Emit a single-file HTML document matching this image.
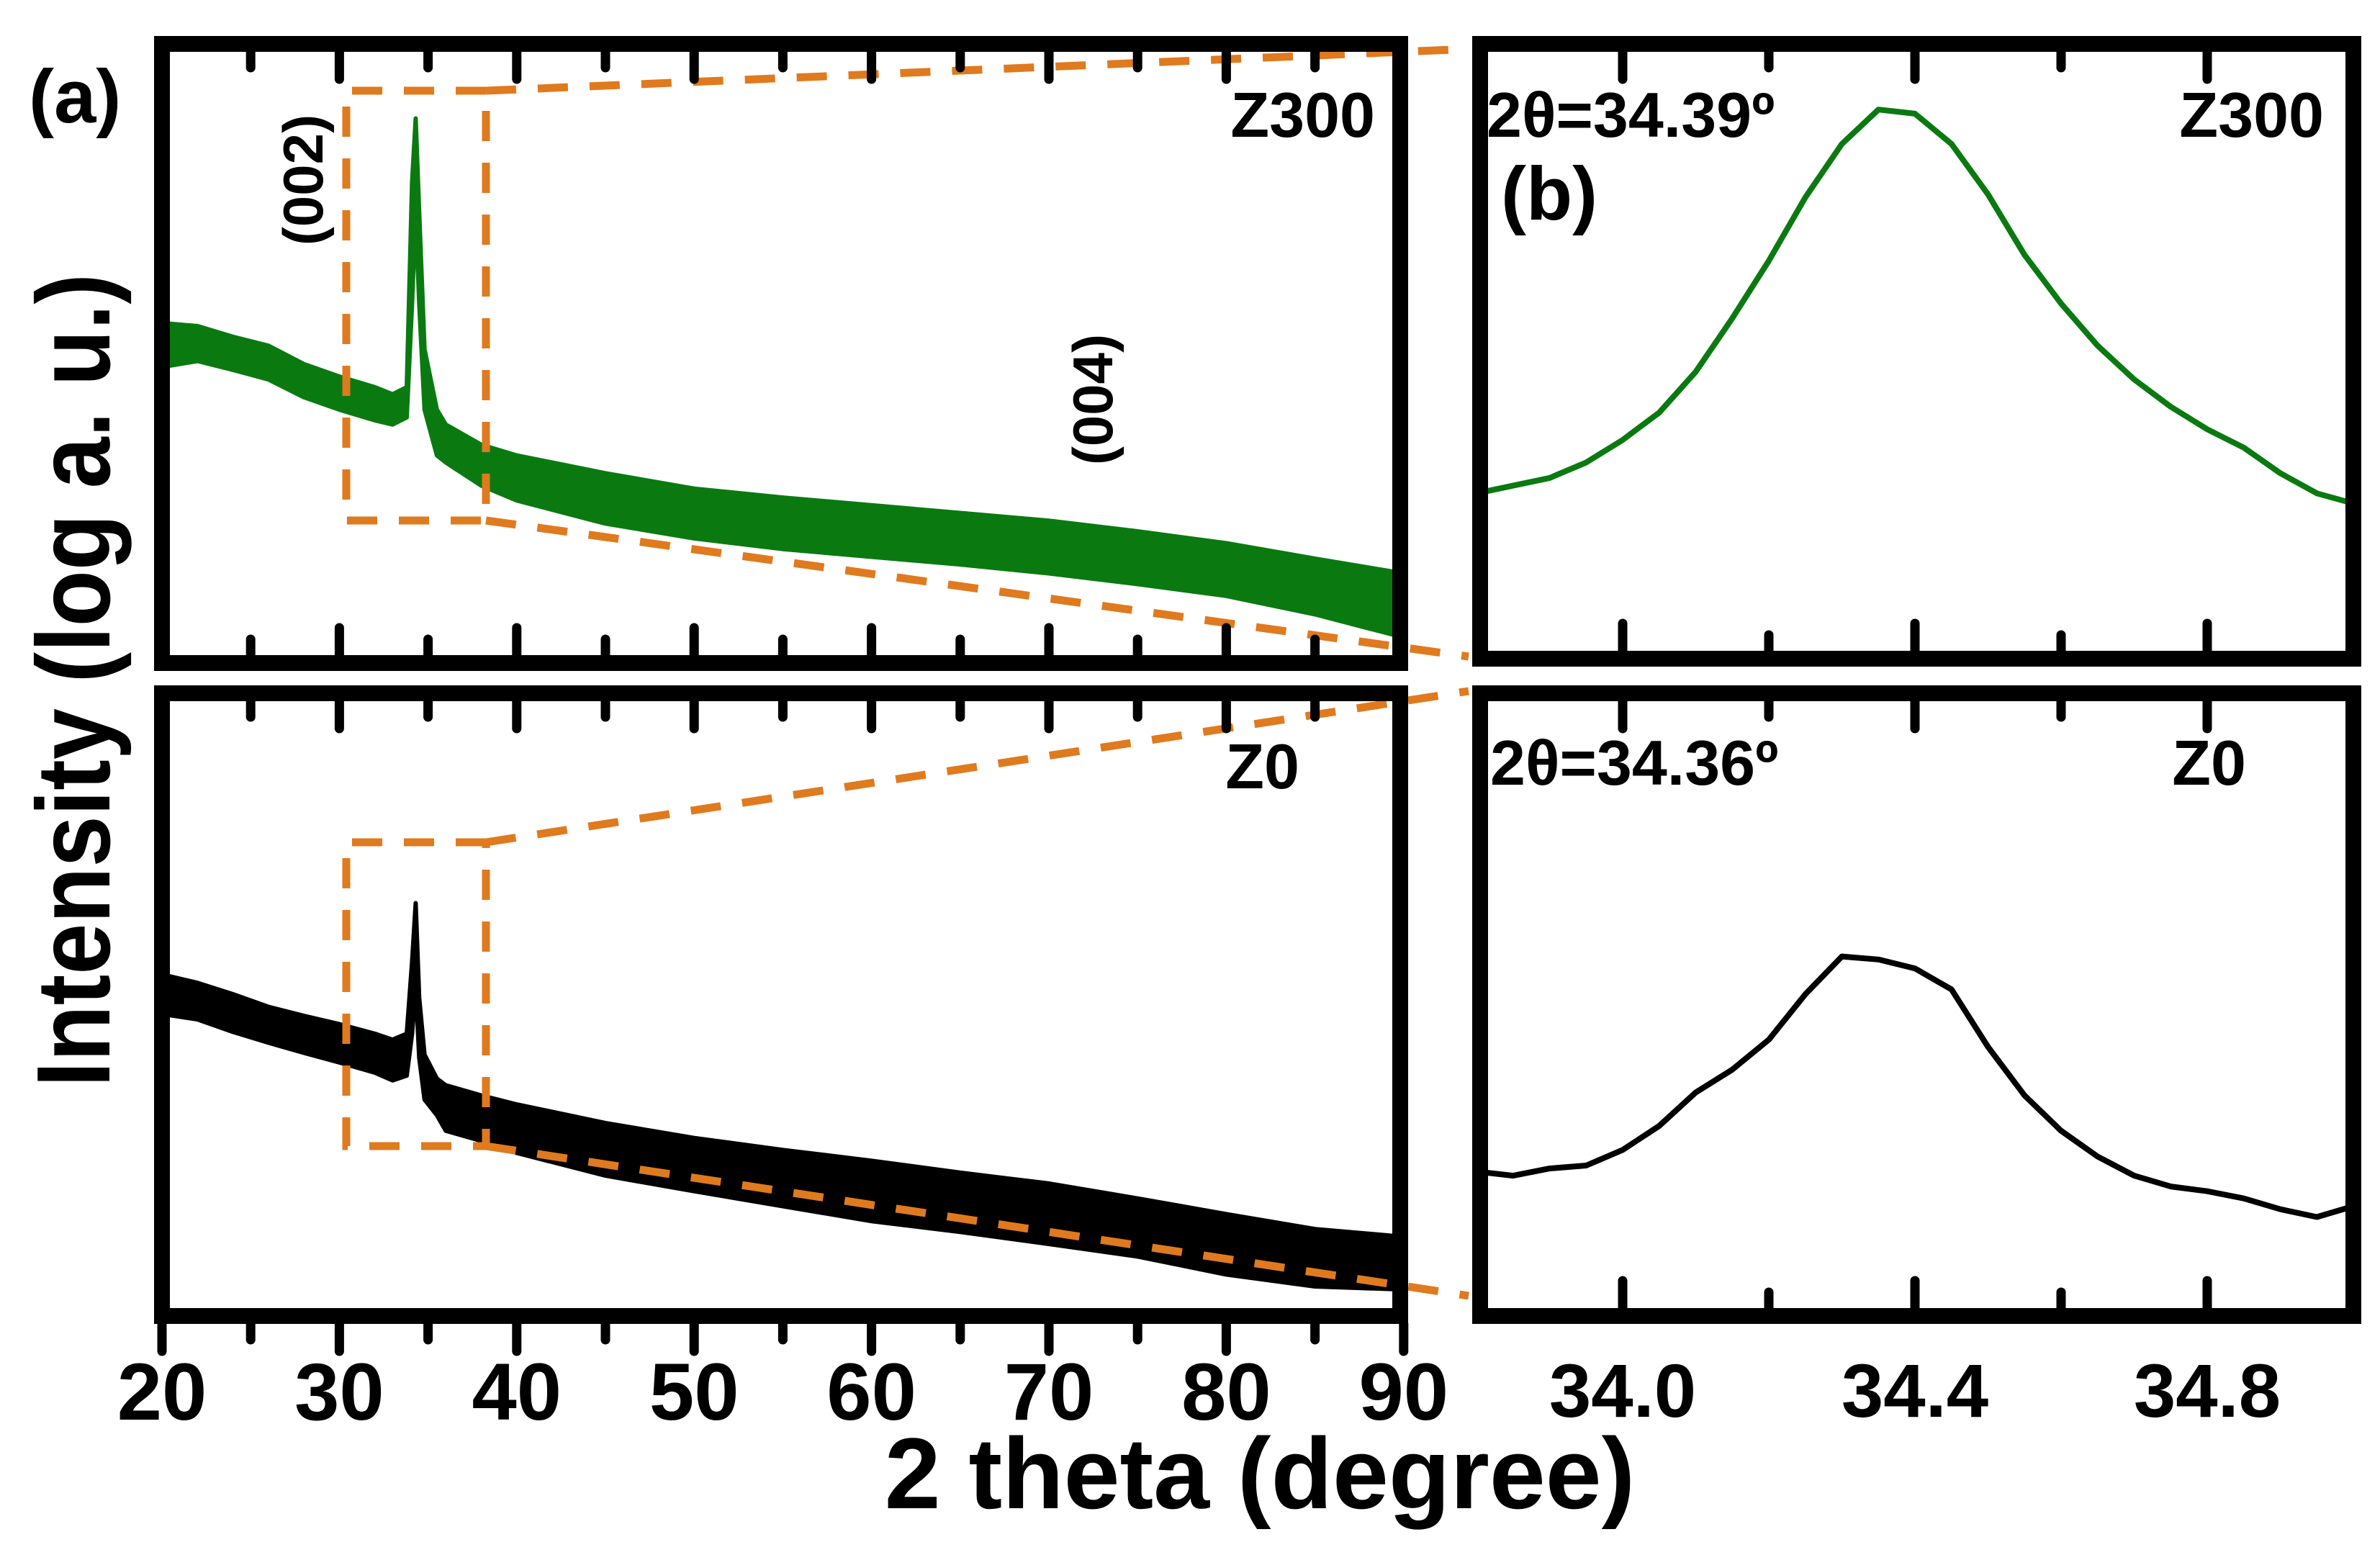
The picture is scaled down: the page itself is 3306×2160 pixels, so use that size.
<!DOCTYPE html>
<html><head><meta charset="utf-8"><style>
html,body{margin:0;padding:0;background:#fff;}
svg{display:block;}
text{font-family:"Liberation Sans",sans-serif;font-weight:bold;fill:#000;}
.nar{font-family:"Liberation Sans Narrow","Liberation Sans",sans-serif;}
</style></head><body>
<svg id="chart" width="3306" height="2160" viewBox="0 0 3306 2160" xmlns="http://www.w3.org/2000/svg">
<g id="marks"></g>
<g id="frames"></g>
<g id="labels">
<text x="40" y="170" font-size="105" class="nar">(a)</text>
<text x="2085" y="305" font-size="105" class="nar">(b)</text>
<text x="1910" y="190" font-size="88" text-anchor="end" class="nar">Z300</text>
<text x="1805" y="1095" font-size="88" text-anchor="end" class="nar">Z0</text>
<text x="2065" y="190" font-size="88" class="nar">2θ=34.39º</text>
<text x="3228" y="190" font-size="88" text-anchor="end" class="nar">Z300</text>
<text x="2070" y="1090" font-size="88" class="nar">2θ=34.36º</text>
<text x="3120" y="1090" font-size="88" text-anchor="end" class="nar">Z0</text>
<text transform="translate(448,250) rotate(-90)" font-size="78" text-anchor="middle" class="nar">(002)</text>
<text transform="translate(1545,555) rotate(-90)" font-size="78" text-anchor="middle" class="nar">(004)</text>
<text transform="translate(152,945) rotate(-90)" font-size="145" text-anchor="middle" textLength="1130" lengthAdjust="spacingAndGlyphs" class="nar">Intensity (log a. u.)</text>
<text x="1750" y="2095" font-size="140" text-anchor="middle" class="nar">2 theta (degree)</text>
</g>
</svg>
<script>
// Panel (a) wide scans: envelope of noisy trace (values = relative log intensity, 0..100 of panel height)
const wideTheta = [20,22,24,26,28,30,32,33,33.8,34.1,34.3,34.5,34.8,35.5,36,38,40,45,50,55,60,65,70,75,80,85,90];
const z300Upper = [55.0,54.5,52.7,51.2,48.1,46.0,44.2,43.0,44.2,78.8,89.5,73.7,50.6,40.4,37.9,34.5,32.7,29.7,27.1,25.6,24.3,23.0,21.7,19.9,17.9,15.3,12.8];
const z300Lower = [47.6,48.6,47.1,45.5,42.5,40.4,38.6,37.9,39.1,58.3,73.7,58.3,40.4,32.7,31.5,27.6,25.1,21.2,18.7,16.9,15.6,14.3,12.8,11.0,9.0,5.9,2.0];
const z0Upper = [53.9,52.5,50.6,48.5,47.0,45.6,44.0,43.0,44.0,56.0,65.8,50.0,40.5,36.5,35.4,33.7,32.2,29.1,26.6,24.6,22.8,20.8,19.0,16.5,13.9,11.4,10.1];
const z0Lower = [47.3,46.4,44.3,42.5,40.8,39.2,37.5,36.2,37.0,44.0,52.0,40.0,33.0,30.4,27.8,26.1,24.1,20.3,17.7,15.2,12.7,10.9,8.9,6.8,3.8,1.8,1.3];
// Panel (b) zoomed peak
const zoomTheta = [33.80,33.85,33.90,33.95,34.00,34.05,34.10,34.15,34.20,34.25,34.30,34.35,34.40,34.45,34.50,34.55,34.60,34.65,34.70,34.75,34.80,34.85,34.90,34.95,35.00];
const z300Peak = [26.3,27.6,28.9,31.5,35.3,39.9,46.8,55.8,65.5,76.2,85.2,91.0,90.3,85.2,76.7,66.5,58.3,51.2,45.5,40.9,37.1,34.0,29.7,26.3,24.6];
const z0Peak = [21.0,20.3,21.5,22.0,24.6,28.6,34.2,38.0,43.0,50.6,56.9,56.4,54.9,51.4,41.8,33.7,27.8,23.5,20.3,18.5,17.7,16.5,14.7,13.4,15.2];
const wideTicks = [20,25,30,35,40,45,50,55,60,65,70,75,80,85,90];
const wideTickLabels = ["20","30","40","50","60","70","80","90"];
const zoomTicks = [34.0,34.2,34.4,34.6,34.8];
const zoomTickLabels = ["34.0","34.4","34.8"];

const NS = "http://www.w3.org/2000/svg";
const marks = document.getElementById('marks');
const frames = document.getElementById('frames');
function mk(tag, attrs, parent){const e=document.createElementNS(NS,tag);for(const k in attrs)e.setAttribute(k,attrs[k]);(parent||marks).appendChild(e);return e;}

const xWide = t => 225 + (t-20)*24.64;
const xZoom = t => 2254 + (t-34)*1015;
const yTop = v => 902 - v*8.24;
const yBot = v => 1802 - v*8.32;

function band(xs, up, lo, xf, yf, color, name){
  let d = xs.map((t,i)=>(i?'L':'M')+xf(t).toFixed(1)+','+yf(up[i]).toFixed(1)).join(' ');
  for(let i=xs.length-1;i>=0;i--) d += ' L'+xf(xs[i]).toFixed(1)+','+yf(lo[i]).toFixed(1);
  const p = mk('path',{d:d+' Z',fill:color,stroke:color,'stroke-width':6,'stroke-linejoin':'round'});
  
  
}
function line(xs, ys, xf, yf, color, name){
  const d = xs.map((t,i)=>(i?'L':'M')+xf(t).toFixed(1)+','+yf(ys[i]).toFixed(1)).join(' ');
  const p = mk('path',{d:d,fill:'none',stroke:color,'stroke-width':8,'stroke-linejoin':'round'});
  
  
}
band(wideTheta, z300Upper, z300Lower, xWide, yTop, '#0a7a10', 'z300-wide-trace');
band(wideTheta, z0Upper, z0Lower, xWide, yBot, '#000', 'z0-wide-trace');
line(zoomTheta, z300Peak, xZoom, yTop, '#0a7a10', 'z300-peak-trace');
line(zoomTheta, z0Peak, xZoom, yBot, '#000', 'z0-peak-trace');

// Orange zoom-indicator dashes
const orange = '#e07a1e';
function dash(pts, name){
  const p = mk('polyline',{points:pts,fill:'none',stroke:orange,'stroke-width':11,'stroke-dasharray':'42 30'});
  
  
}
dash('675,126 481,126 481,723 675,723 675,126', 'zoom-box-z300');
dash('675,126 2040,68', 'zoom-line-z300-top');
dash('675,723 2040,912', 'zoom-line-z300-bottom');
dash('675,1170 481,1170 481,1592 675,1592 675,1170', 'zoom-box-z0');
dash('675,1170 2040,960', 'zoom-line-z0-top');
dash('675,1592 2040,1800', 'zoom-line-z0-bottom');

// Frames
function frame(x1,y1,x2,y2,name){
  const r = mk('rect',{x:x1+11,y:y1+11,width:x2-x1-22,height:y2-y1-22,fill:'none',stroke:'#000','stroke-width':22},frames);
  
  
}
frame(214,50,1956,932,'frame-a-z300');
frame(214,952,1956,1839,'frame-a-z0');
frame(2045,50,3280,926,'frame-b-z300');
frame(2045,952,3280,1839,'frame-b-z0');

function tick(x,y1,y2,name){
  const l = mk('line',{x1:x,y1:y1,x2:x,y2:y2,stroke:'#000','stroke-width':13,'stroke-linecap':'round'},frames);
  
  
}
wideTicks.forEach((t,i)=>{
  const major = (t%10===0); const L = major?38:22; const x = xWide(t);
  if(!(t===20||t===90)) {
    tick(x,72,72+L,'tick-a-top-'+t);
    tick(x,910,910-L,'tick-a-mid1-'+t);
    tick(x,974,974+L,'tick-a-mid2-'+t);
  }
  tick(x,1839,1839+(major?38:22),'tick-a-bottom-'+t);
});
zoomTicks.forEach((t,i)=>{
  const major = (i%2===0); const L = major?38:22; const x = xZoom(t);
  tick(x,72,72+L,'tick-b-top-'+i);
  tick(x,904,904-L,'tick-b-mid1-'+i);
  tick(x,974,974+L,'tick-b-mid2-'+i);
  tick(x,1817,1817-L,'tick-b-bottom-'+i);
});
const labels = document.getElementById('labels');
wideTickLabels.forEach(s=>{
  const t = mk('text',{x:xWide(+s),y:1972,'font-size':112,'text-anchor':'middle',class:'nar'},labels);
  t.textContent = s;
  
  
});
zoomTickLabels.forEach(s=>{
  const t = mk('text',{x:xZoom(+s),y:1968,'font-size':105,'text-anchor':'middle',class:'nar'},labels);
  t.textContent = s;
  
  
});
</script>
</body></html>
